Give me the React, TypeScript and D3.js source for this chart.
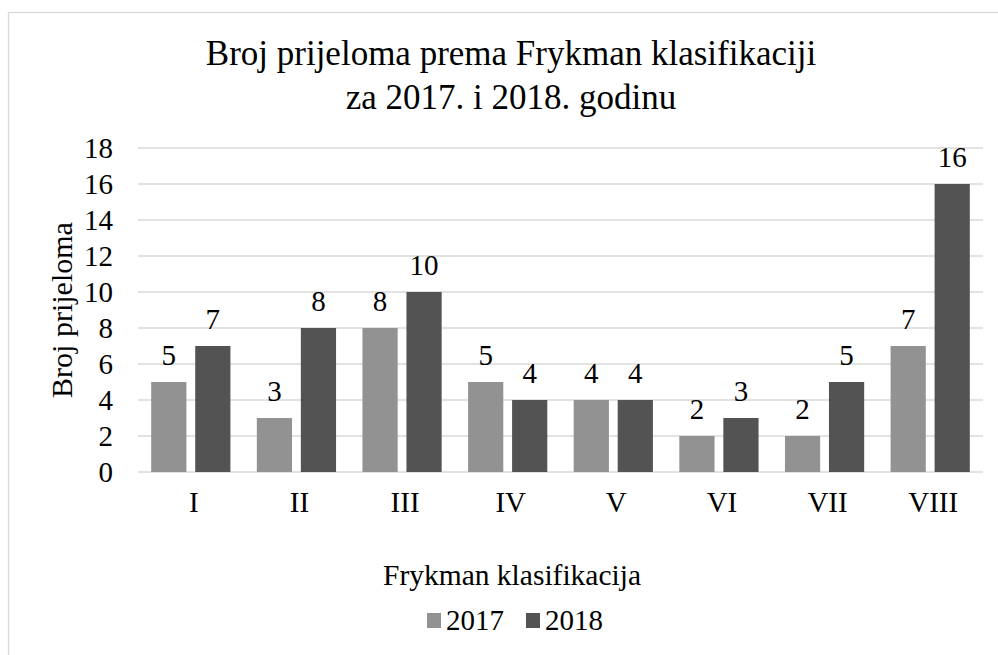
import React, { useEffect, useRef } from 'react';
import * as d3 from 'd3';

const categories = ['I', 'II', 'III', 'IV', 'V', 'VI', 'VII', 'VIII'];
const series = ['2017', '2018'];
const values2017 = [5, 3, 8, 5, 4, 2, 2, 7];
const values2018 = [7, 8, 10, 4, 4, 3, 5, 16];
const yTicks = [0, 2, 4, 6, 8, 10, 12, 14, 16, 18];
const colors = ['#929292', '#535353'];

const titleLines = ['Broj prijeloma prema Frykman klasifikaciji', 'za 2017. i 2018. godinu'];
const xTitle = 'Frykman klasifikacija';
const yTitle = 'Broj prijeloma';

const W = 998;
const H = 655;
const FONT = '"Liberation Serif", "Times New Roman", serif';

const App: React.FC = () => {
  const svgRef = useRef<SVGSVGElement>(null);

  useEffect(() => {
    const svg = d3.select(svgRef.current);
    svg.selectAll('*').remove();

    const plot = { left: 138, right: 983, top: 148, bottom: 472 };

    // chart border
    svg.append('rect')
      .attr('x', 8.5)
      .attr('y', 12.5)
      .attr('width', W)
      .attr('height', H)
      .attr('fill', 'white')
      .attr('stroke', '#d9d9d9')
      .attr('stroke-width', 1.3);

    const x0 = d3.scaleBand<string>()
      .domain(categories)
      .range([plot.left, plot.right]);

    const x1 = d3.scaleBand<string>()
      .domain(series)
      .range([0, x0.bandwidth()])
      .paddingInner(0.2)
      .paddingOuter(0.3);

    const y = d3.scaleLinear()
      .domain([0, 18])
      .range([plot.bottom, plot.top]);

    // gridlines
    svg.append('g')
      .selectAll('line')
      .data(yTicks)
      .enter().append('line')
      .attr('x1', plot.left)
      .attr('x2', plot.right)
      .attr('y1', d => y(d))
      .attr('y2', d => y(d))
      .attr('stroke', '#d9d9d9')
      .attr('stroke-width', 1.3);

    // y tick labels
    svg.append('g')
      .selectAll('text')
      .data(yTicks)
      .enter().append('text')
      .attr('x', 113)
      .attr('y', d => y(d) + 9.8)
      .attr('text-anchor', 'end')
      .attr('font-family', FONT)
      .attr('font-size', 29)
      .attr('fill', '#000')
      .text(d => d);

    // bars
    const rows = categories.map((c, i) => ({ cat: c, vals: [values2017[i], values2018[i]] }));
    const groups = svg.append('g')
      .selectAll('g')
      .data(rows)
      .enter().append('g')
      .attr('transform', d => `translate(${x0(d.cat)},0)`);

    groups.selectAll('rect')
      .data(d => d.vals.map((v, j) => ({ s: series[j], v, j })))
      .enter().append('rect')
      .attr('x', d => x1(d.s) as number)
      .attr('y', d => y(d.v))
      .attr('width', x1.bandwidth())
      .attr('height', d => y(0) - y(d.v))
      .attr('fill', d => colors[d.j]);

    groups.selectAll('text')
      .data(d => d.vals.map((v, j) => ({ s: series[j], v, j })))
      .enter().append('text')
      .attr('x', d => (x1(d.s) as number) + x1.bandwidth() / 2)
      .attr('y', d => y(d.v) - 17)
      .attr('text-anchor', 'middle')
      .attr('font-family', FONT)
      .attr('font-size', 29)
      .attr('fill', '#000')
      .text(d => d.v);

    // x tick labels
    svg.append('g')
      .selectAll('text')
      .data(categories)
      .enter().append('text')
      .attr('x', d => (x0(d) as number) + x0.bandwidth() / 2 + 3)
      .attr('y', 512)
      .attr('text-anchor', 'middle')
      .attr('font-family', FONT)
      .attr('font-size', 29)
      .attr('fill', '#000')
      .text(d => d);

    // title
    svg.append('g')
      .selectAll('text')
      .data(titleLines)
      .enter().append('text')
      .attr('x', 511)
      .attr('y', (_d, i) => 65 + i * 44)
      .attr('text-anchor', 'middle')
      .attr('font-family', FONT)
      .attr('font-size', 35)
      .attr('fill', '#000')
      .text(d => d);

    // axis titles
    svg.append('text')
      .attr('x', 512)
      .attr('y', 585)
      .attr('text-anchor', 'middle')
      .attr('font-family', FONT)
      .attr('font-size', 29.5)
      .attr('fill', '#000')
      .text(xTitle);

    svg.append('text')
      .attr('transform', `translate(71.5,${(plot.top + plot.bottom) / 2}) rotate(-90)`)
      .attr('text-anchor', 'middle')
      .attr('font-family', FONT)
      .attr('font-size', 30)
      .attr('fill', '#000')
      .text(yTitle);

    // legend
    const legendX = [427, 526];
    const legend = svg.append('g')
      .selectAll('g')
      .data(series)
      .enter().append('g')
      .attr('transform', (_d, i) => `translate(${legendX[i]},613)`);

    legend.append('rect')
      .attr('width', 14)
      .attr('height', 15)
      .attr('fill', (_d, i) => colors[i]);

    legend.append('text')
      .attr('x', 19)
      .attr('y', 16.5)
      .attr('font-family', FONT)
      .attr('font-size', 29)
      .attr('fill', '#000')
      .text(d => d);
  }, []);

  return (
    <svg
      ref={svgRef}
      width={W}
      height={H}
      style={{ position: 'absolute', left: 0, top: 0, display: 'block', background: 'white' }}
    />
  );
};

export default App;
